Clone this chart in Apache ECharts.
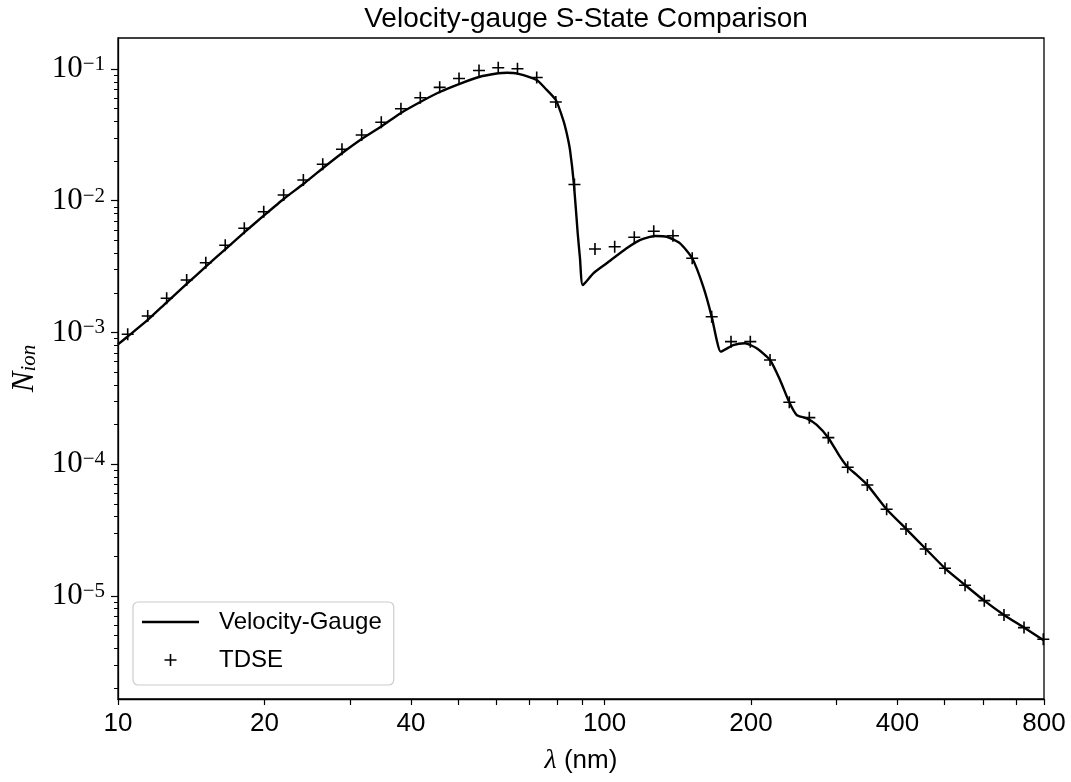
<!DOCTYPE html>
<html>
<head>
<meta charset="utf-8">
<script src="https://cdn.jsdelivr.net/npm/echarts@6/dist/echarts.min.js"></script>
<style>
  html, body { margin: 0; padding: 0; background: #ffffff; }
  #chart { width: 1071px; height: 782px; }
</style>
</head>
<body>
<div id="chart"></div>
<script>
// Velocity-gauge model curve: wavelength (nm) and ionization yield
const gaugeWavelength = [
  10.0, 10.47, 11.51, 12.59, 13.84, 15.15, 16.61, 18.18, 19.93, 21.90,
  24.04, 26.35, 28.86, 31.68, 34.76, 38.15, 41.81, 45.83, 50.22, 55.20,
  60.46, 63.0, 66.22, 72.53, 75.4, 79.4, 82.24, 83.6, 84.9, 86.5,
  88.05, 89.0, 90.2, 94.8, 101.0, 111.0, 118.2, 126.9, 134.2, 142.9,
  151.4, 159.5, 166.0, 170.0, 173.2, 183.9, 194.3, 205.4, 218.8, 229.4,
  239.7, 248.3, 260.2, 272.9, 288.2, 304.6, 316.0, 329.8, 346.7, 379.9,
  416.5, 457.0, 500.8, 550.6, 603.0, 662.0, 727.8, 800.0
];
const gaugeYield = [
  8.13e-4, 9.32e-4, 1.245e-3, 1.695e-3, 2.334e-3, 3.16e-3, 4.28e-3, 5.76e-3, 7.70e-3, 1.031e-2,
  1.340e-2, 1.763e-2, 2.292e-2, 2.94e-2, 3.66e-2, 4.64e-2, 5.62e-2, 6.69e-2, 7.69e-2, 8.70e-2,
  9.28e-2, 9.37e-2, 9.24e-2, 8.25e-2, 7.18e-2, 5.82e-2, 4.10e-2, 3.25e-2, 2.43e-2, 1.33e-2,
  5.69e-3, 3.68e-3, 2.29e-3, 2.81e-3, 3.35e-3, 4.36e-3, 5.03e-3, 5.40e-3, 5.33e-3, 4.75e-3,
  3.66e-3, 2.23e-3, 1.32e-3, 8.77e-4, 7.15e-4, 8.03e-4, 8.28e-4, 7.59e-4, 6.18e-4, 4.36e-4,
  2.95e-4, 2.36e-4, 2.23e-4, 1.99e-4, 1.59e-4, 1.14e-4, 9.48e-5, 8.29e-5, 6.97e-5, 4.55e-5,
  3.23e-5, 2.28e-5, 1.62e-5, 1.21e-5, 9.21e-6, 7.17e-6, 5.75e-6, 4.59e-6
];

// TDSE reference points
const tdseWavelength = [
  10.47, 11.51, 12.59, 13.84, 15.15, 16.61, 18.18, 19.93, 21.90, 24.04,
  26.35, 28.86, 31.68, 34.76, 38.15, 41.81, 45.83, 50.22, 55.20, 60.46,
  66.22, 72.53, 79.39, 86.71, 95.56, 104.9, 115.1, 126.2, 138.2, 151.4,
  166.0, 181.9, 199.3, 218.8, 239.7, 263.5, 288.3, 316.0, 346.7, 379.9,
  416.4, 457.0, 500.8, 550.6, 603.1, 662.0, 727.8, 797.3
];
const tdseYield = [
  9.69e-4, 1.334e-3, 1.818e-3, 2.503e-3, 3.386e-3, 4.59e-3, 6.18e-3, 8.26e-3, 1.105e-2, 1.437e-2,
  1.891e-2, 2.458e-2, 3.155e-2, 3.94e-2, 4.996e-2, 6.06e-2, 7.26e-2, 8.47e-2, 9.74e-2, 0.1023,
  0.1005, 8.62e-2, 5.62e-2, 1.328e-2, 4.30e-3, 4.48e-3, 5.28e-3, 5.86e-3, 5.43e-3, 3.66e-3,
  1.318e-3, 8.52e-4, 8.52e-4, 6.18e-4, 2.953e-4, 2.256e-4, 1.590e-4, 9.48e-5, 6.96e-5, 4.55e-5,
  3.225e-5, 2.273e-5, 1.623e-5, 1.206e-5, 9.21e-6, 7.17e-6, 5.75e-6, 4.69e-6
];

// Axis ticks and labels
const xTickLabels = [10, 20, 40, 100, 200, 400, 800];
const xTicks = [10, 20, 30, 40, 50, 60, 70, 80, 90, 100, 200, 300, 400, 500, 600, 700, 800];
const yTickLabels = [1e-5, 1e-4, 1e-3, 1e-2, 1e-1];
const xRange = [10, 800];
const yRange = [1.65e-6, 0.172];

// minor ticks on the log y axis: 2..9 times each decade inside the range
const yMinorTicks = [];
for (let e = -6; e <= -1; e++) {
  for (let m = 2; m <= 9; m++) {
    const v = m * Math.pow(10, e);
    if (v >= yRange[0] && v <= yRange[1]) yMinorTicks.push(+v.toPrecision(3));
  }
}

const SANS = '"Liberation Sans", "DejaVu Sans", sans-serif';
const SERIF = '"Liberation Serif", "DejaVu Serif", serif';
const PLUS = 'path://M0,5.2 L12,5.2 L12,6.8 L0,6.8 Z M5.2,0 L6.8,0 L6.8,12 L5.2,12 Z';
const LINE_ICON = 'path://M0,0 L57,0 L57,2.4 L0,2.4 Z';

const chart = echarts.init(document.getElementById('chart'), null, { renderer: 'canvas' });

function pairs(xs, ys) { return xs.map((x, i) => [x, ys[i]]); }

const option = {
  backgroundColor: '#ffffff',
  animation: false,
  title: {
    text: 'Velocity-gauge S-State Comparison',
    left: 581, top: 0, textAlign: 'center',
    textStyle: { fontFamily: SANS, fontSize: 28, fontWeight: 'normal', color: '#000' }
  },
  grid: {
    left: 118, right: 27, top: 38, bottom: 83,
    show: true, borderColor: '#000', borderWidth: 1.3, backgroundColor: 'transparent'
  },
  legend: {
    orient: 'vertical',
    left: 133, top: 602,
    data: [
      { name: 'Velocity-Gauge', icon: LINE_ICON, itemStyle: { color: '#000' } },
      { name: 'TDSE', icon: PLUS, itemStyle: { color: '#000' } }
    ],
    itemWidth: 57, itemHeight: 12, itemGap: 14,
    padding: [8, 12, 13, 9],
    borderColor: '#cccccc', borderWidth: 1.2, borderRadius: 5,
    backgroundColor: 'rgba(255,255,255,0.8)',
    textStyle: { fontFamily: SANS, fontSize: 24, color: '#000', lineHeight: 24, padding: [0, 0, 0, 15] }
  },
  xAxis: [
    {
      type: 'log', logBase: 10, min: xRange[0], max: xRange[1],
      position: 'bottom',
      name: '{l|λ}{u|\u00a0(nm)}', nameLocation: 'middle', nameGap: 48,
      nameTextStyle: {
        color: '#000',
        rich: {
          l: { fontFamily: SERIF, fontStyle: 'italic', fontSize: 28, color: '#000' },
          u: { fontFamily: SANS, fontSize: 26, color: '#000' }
        }
      },
      axisLine: { show: true, lineStyle: { color: '#000', width: 1.3 } },
      axisTick: { show: true, length: 6, customValues: xTicks, lineStyle: { color: '#000', width: 1.2 } },
      axisLabel: {
        customValues: xTickLabels, margin: 12,
        fontFamily: SANS, fontSize: 26, color: '#000',
        formatter: v => String(Math.round(v))
      },
      splitLine: { show: false }, minorTick: { show: false }
    }
  ],
  yAxis: [
    {
      type: 'log', logBase: 10, min: yRange[0], max: yRange[1],
      position: 'left',
      name: '{n|N}{s|ion}', nameLocation: 'middle', nameGap: 76, nameRotate: 90,
      nameTextStyle: {
        color: '#000',
        rich: {
          n: { fontFamily: SERIF, fontStyle: 'italic', fontSize: 31, color: '#000', lineHeight: 30 },
          s: { fontFamily: SERIF, fontStyle: 'italic', fontSize: 21, color: '#000', lineHeight: 12, verticalAlign: 'bottom' }
        }
      },
      axisLine: { show: true, lineStyle: { color: '#000', width: 1.3 } },
      axisTick: { show: true, length: 7, customValues: yTickLabels, lineStyle: { color: '#000', width: 1.2 } },
      axisLabel: {
        customValues: yTickLabels, margin: 13,
        formatter: v => '{b|10}{e|\u2212' + (-Math.round(Math.log10(v))) + '}',
        rich: {
          b: { fontFamily: SERIF, fontSize: 31, color: '#000', lineHeight: 30 },
          e: { fontFamily: SERIF, fontSize: 21, color: '#000', lineHeight: 18, verticalAlign: 'top' }
        }
      },
      splitLine: { show: false }, minorTick: { show: false }
    },
    {
      type: 'log', logBase: 10, min: yRange[0], max: yRange[1],
      position: 'left', offset: 0,
      axisLine: { show: false },
      axisTick: { show: true, length: 4, customValues: yMinorTicks, lineStyle: { color: '#000', width: 1 } },
      axisLabel: { show: false },
      splitLine: { show: false }
    }
  ],
  series: [
    {
      name: 'Velocity-Gauge', type: 'line',
      xAxisIndex: 0, yAxisIndex: 0,
      data: pairs(gaugeWavelength, gaugeYield),
      showSymbol: false, symbol: 'none', smooth: 0.2,
      lineStyle: { color: '#000', width: 2.4 },
      itemStyle: { color: '#000' },
      clip: true, z: 3
    },
    {
      name: 'TDSE', type: 'scatter',
      xAxisIndex: 0, yAxisIndex: 0,
      data: pairs(tdseWavelength, tdseYield),
      symbol: PLUS, symbolSize: 12,
      itemStyle: { color: '#000', opacity: 1 },
      clip: false, z: 4
    }
  ]
};

chart.setOption(option);
</script>
</body>
</html>
